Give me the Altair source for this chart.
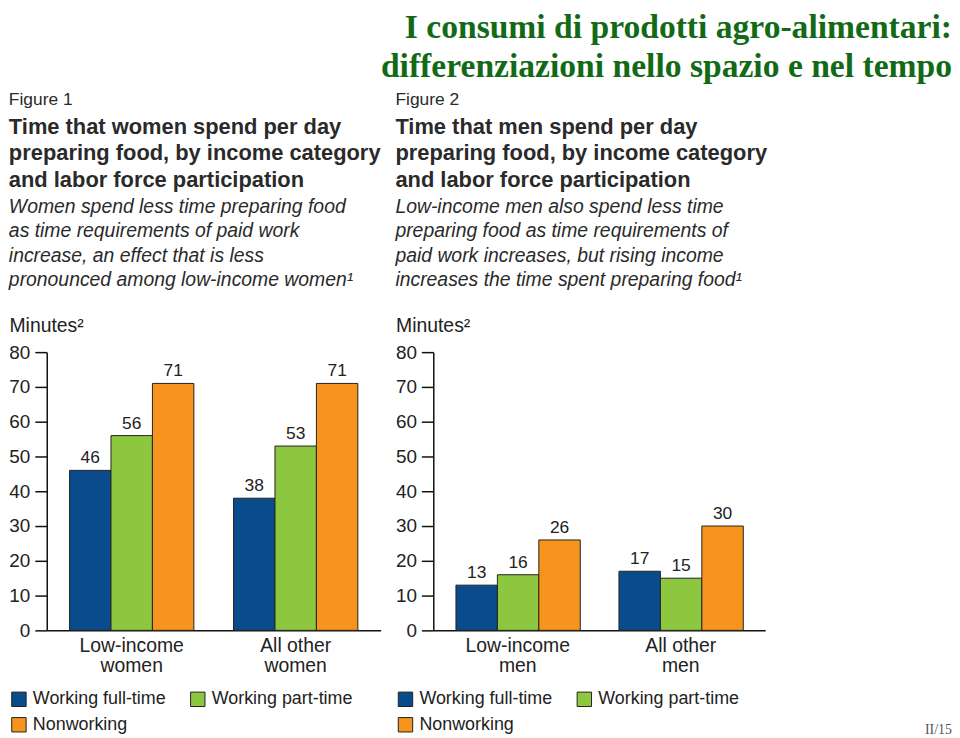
import altair as alt
import pandas as pd

# ---------------- data ----------------
statuses = ["Working full-time", "Working part-time", "Nonworking"]
colors = ["#0a4b8c", "#8dc63f", "#f7941e"]

groups_women = ["Low-income women", "All other women"]
women_full = [46, 38]
women_part = [56, 53]
women_non = [71, 71]

groups_men = ["Low-income men", "All other men"]
men_full = [13, 17]
men_part = [16, 15]
men_non = [26, 30]

y_ticks = [0, 10, 20, 30, 40, 50, 60, 70, 80]

main_title = ["I consumi di prodotti agro-alimentari:",
              "differenziazioni nello spazio e nel tempo"]
page_label = ["II/15"]

fig1_label = "Figure 1"
fig1_title = ["Time that women spend per day",
              "preparing food, by income category",
              "and labor force participation"]
fig1_sub = ["Women spend less time preparing food",
            "as time requirements of paid work",
            "increase, an effect that is less",
            "pronounced among low-income women\u00b9"]

fig2_label = "Figure 2"
fig2_title = ["Time that men spend per day",
              "preparing food, by income category",
              "and labor force participation"]
fig2_sub = ["Low-income men also spend less time",
            "preparing food as time requirements of",
            "paid work increases, but rising income",
            "increases the time spent preparing food\u00b9"]

TXT = "#222222"
SANS = "Liberation Sans"
PLOT_H = 280


def panel(groups, full, part, non, label, title, sub, width, page=None):
    rows = []
    for g, a, b, c in zip(groups, full, part, non):
        for s, v in zip(statuses, (a, b, c)):
            rows.append({"group": g, "status": s, "minutes": v})
    df = pd.DataFrame(rows)

    label_expr = ("[join(slice(split(datum.value, ' '), 0, -1), ' '), "
                  "peek(split(datum.value, ' '))]")
    x = alt.X("group:N", sort=groups,
              scale=alt.Scale(paddingInner=0.242, paddingOuter=0.139),
              axis=alt.Axis(title=None, ticks=False, labelAngle=0,
                            labelFontSize=19.5, labelPadding=6,
                            labelLineHeight=20.5, labelExpr=label_expr,
                            labelColor=TXT, domainColor="#111111",
                            domainWidth=1.5, labelFont=SANS))
    xo = alt.XOffset("status:N", sort=statuses,
                     scale=alt.Scale(paddingInner=0, paddingOuter=0))
    y = alt.Y("minutes:Q", scale=alt.Scale(domain=[0, 80]),
              axis=alt.Axis(values=y_ticks, grid=False, title="Minutes\u00b2",
                            titleAngle=0, titleAlign="left", titleX=-38,
                            titleY=-27, titleBaseline="middle",
                            titleFontSize=19.5, titleFontWeight="normal",
                            titleColor=TXT, titleFont=SANS,
                            tickSize=12, tickColor="#111111", tickWidth=1.5,
                            labelPadding=5, labelFontSize=19, labelColor=TXT,
                            labelFont=SANS,
                            domainColor="#111111", domainWidth=1.5))
    color = alt.Color("status:N", sort=statuses,
                      scale=alt.Scale(domain=statuses, range=colors),
                      legend=alt.Legend(title=None, orient="none",
                                        legendX=-37, legendY=340,
                                        columns=2, direction="horizontal",
                                        symbolType="square", symbolSize=210,
                                        symbolStrokeColor="#222222",
                                        symbolStrokeWidth=1,
                                        symbolOpacity=1,
                                        labelFontSize=18, labelColor=TXT,
                                        labelFont=SANS, labelOffset=5,
                                        rowPadding=6, columnPadding=22))
    bars = alt.Chart(df).mark_bar(stroke="#222222", strokeWidth=1,
                                  opacity=1).encode(
        x=x, xOffset=xo, y=y, color=color)
    text = alt.Chart(df).mark_text(baseline="bottom", dy=-3, fontSize=17.5,
                                   color=TXT, font=SANS).encode(
        x=x, xOffset=xo, y=y, text="minutes:Q")
    layers = [bars, text]
    if page is not None:
        # slide page number, bottom-right corner of the slide
        layers.append(alt.Chart(pd.DataFrame({"page": page})).mark_text(
            align="right", baseline="middle", font="Liberation Serif",
            fontSize=14, color="#555555").encode(
            text="page:N", x=alt.value(width + 188),
            y=alt.value(PLOT_H + 100)))
    layer = alt.layer(*layers).properties(
        width=width, height=PLOT_H,
        title=alt.TitleParams(title, subtitle=sub, anchor="start",
                              font=SANS, fontSize=22, fontWeight="bold",
                              color="#2a2a2a", lineHeight=27,
                              subtitleFont=SANS, subtitleFontSize=19.5,
                              subtitleFontStyle="italic",
                              subtitleColor="#2a2a2a",
                              subtitleLineHeight=24.5, subtitlePadding=6,
                              offset=25))
    return alt.vconcat(layer, title=alt.TitleParams(
        label, anchor="start", font=SANS, fontSize=17.5, fontWeight="normal",
        color="#2a2a2a", offset=7))


p1 = panel(groups_women, women_full, women_part, women_non,
           fig1_label, fig1_title, fig1_sub, 336)
p2 = panel(groups_men, men_full, men_part, men_non,
           fig2_label, fig2_title, fig2_sub, 334, page=page_label)

chart = alt.hconcat(
    p1, p2, spacing=14,
    title=alt.TitleParams(main_title, anchor="end", font="Liberation Serif",
                          fontSize=33.8, fontWeight="bold", color="#136a16",
                          lineHeight=39, offset=8),
).resolve_scale(color="independent").configure_view(stroke=None).properties(
    padding=0)

chart.save("out.html", embed_options={"renderer": "svg", "actions": False})
